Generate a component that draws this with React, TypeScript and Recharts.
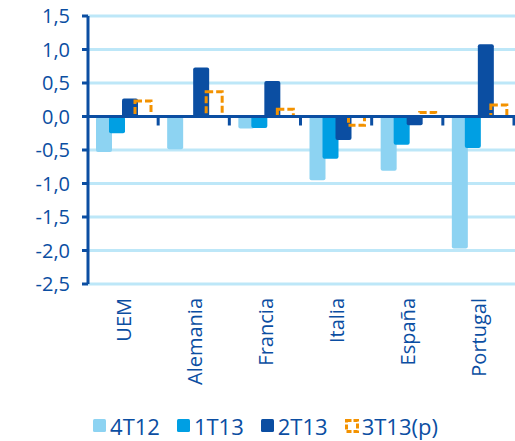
import {
  BarChart,
  Bar,
  XAxis,
  YAxis,
  CartesianGrid,
  Legend,
  ReferenceLine,
} from "recharts";

const countries = ["UEM", "Alemania", "Francia", "Italia", "España", "Portugal"];
const q4t12 = [-0.53, -0.49, -0.18, -0.95, -0.81, -1.97];
const q1t13 = [-0.25, 0.0, -0.17, -0.63, -0.42, -0.47];
const q2t13 = [0.27, 0.73, 0.53, -0.35, -0.13, 1.08];
const q3t13 = [0.23, 0.37, 0.11, -0.13, 0.06, 0.17];
const yTicks = [1.5, 1, 0.5, 0, -0.5, -1, -1.5, -2, -2.5];

const data = countries.map((name, i) => ({
  name,
  q4t12: q4t12[i],
  q1t13: q1t13[i],
  q2t13: q2t13[i],
  q3t13: q3t13[i],
}));

const DARK = "#0B4EA2";
const MID = "#009FE3";
const LIGHT = "#8DD3F2";
const ORANGE = "#F39200";
const GRID = "#BDE7F8";
const FONT = "'Open Sans', sans-serif";

const fmt = (v: number) => v.toFixed(1).replace(".", ",");

// zero line with small ticks at the category boundaries
const ZeroLine = ({ x1, x2, y1 }: any) => {
  const step = (x2 - x1) / countries.length;
  return (
    <g>
      <line x1={x1} x2={x2} y1={y1} y2={y1} stroke={DARK} strokeWidth={3} />
      {countries.map((c, i) => (
        <line
          key={c}
          x1={x1 + step * (i + 1) - 1}
          x2={x1 + step * (i + 1) - 1}
          y1={y1}
          y2={y1 + 9}
          stroke={DARK}
          strokeWidth={3}
        />
      ))}
    </g>
  );
};

const CountryTick = ({ x, y, payload }: any) => (
  <g transform={`translate(${x},${y})`}>
    <text
      transform="rotate(-90)"
      x={-14}
      y={0}
      dy="0.35em"
      textAnchor="end"
      fill={DARK}
      fontSize={20}
      fontFamily={FONT}
    >
      {payload.value}
    </text>
  </g>
);

const legendItems = [
  { label: "4T12", color: LIGHT, dashed: false },
  { label: "1T13", color: MID, dashed: false },
  { label: "2T13", color: DARK, dashed: false },
  { label: "3T13(p)", color: ORANGE, dashed: true },
];

const LegendContent = () => (
  <div
    style={{
      height: 36,
      paddingTop: 6,
      boxSizing: "border-box",
      display: "flex",
      justifyContent: "center",
      paddingLeft: 16,
      fontFamily: FONT,
      fontSize: 22,
      lineHeight: "28px",
      color: DARK,
    }}
  >
    {legendItems.map((it, i) => (
      <div
        key={it.label}
        style={{
          display: "flex",
          alignItems: "center",
          marginRight: i < legendItems.length - 1 ? 17 : 0,
          flexShrink: 0,
          whiteSpace: "nowrap",
        }}
      >
        <svg width={14} height={14} style={{ marginRight: 3 }}>
          {it.dashed ? (
            <rect
              x={1.5}
              y={1.5}
              width={11}
              height={11}
              fill="none"
              stroke={it.color}
              strokeWidth={3}
              strokeDasharray="5 2"
            />
          ) : (
            <rect x={0} y={0} width={13} height={13} rx={1.5} fill={it.color} />
          )}
        </svg>
        <span>{it.label}</span>
      </div>
    ))}
  </div>
);

export default function App() {
  return (
    <div style={{ position: "absolute", left: 0, top: 0, background: "#fff" }}>
      <BarChart
        width={515}
        height={441}
        data={data}
        margin={{ top: 16, right: 0, bottom: 0, left: 0 }}
        barSize={16}
        barGap={-3}
      >
        <CartesianGrid
          vertical={false}
          stroke={GRID}
          strokeWidth={3}
          strokeDasharray=""
        />
        <XAxis
          dataKey="name"
          height={121}
          axisLine={false}
          tickLine={false}
          tickSize={0}
          tickMargin={0}
          interval={0}
          tick={<CountryTick />}
        />
        <YAxis
          width={88}
          domain={[-2.5, 1.5]}
          ticks={yTicks}
          tickFormatter={fmt}
          interval={0}
          axisLine={{ stroke: DARK, strokeWidth: 3 }}
          tickLine={{ stroke: DARK, strokeWidth: 3 }}
          tickSize={6}
          tickMargin={12}
          tick={{ fill: DARK, fontSize: 20, fontFamily: FONT }}
        />
        <Legend verticalAlign="bottom" content={<LegendContent />} />
        <Bar dataKey="q4t12" name="4T12" fill={LIGHT} radius={2} isAnimationActive={false} />
        <Bar dataKey="q1t13" name="1T13" fill={MID} radius={2} isAnimationActive={false} />
        <Bar dataKey="q2t13" name="2T13" fill={DARK} radius={2} isAnimationActive={false} />
        <Bar
          dataKey="q3t13"
          name="3T13(p)"
          fill="#fff"
          fillOpacity={0}
          stroke={ORANGE}
          strokeWidth={3}
          strokeDasharray="7 3"
          isAnimationActive={false}
        />
        <ReferenceLine y={0} shape={(p: any) => <ZeroLine {...p} />} />
      </BarChart>
    </div>
  );
}
